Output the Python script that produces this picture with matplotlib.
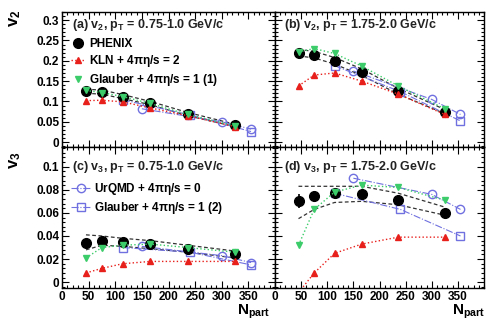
import matplotlib
matplotlib.use("Agg")
import matplotlib.pyplot as plt
from matplotlib.ticker import MultipleLocator, FixedLocator, FixedFormatter
from matplotlib.lines import Line2D
import numpy as np

plt.rcParams['font.family'] = ['Liberation Sans', 'DejaVu Sans']
plt.rcParams['mathtext.fontset'] = 'custom'
plt.rcParams['mathtext.rm'] = 'Liberation Sans:bold'
plt.rcParams['mathtext.it'] = 'Liberation Sans:bold'
plt.rcParams['mathtext.bf'] = 'Liberation Sans:bold'

# ---------------- data ----------------
npart = [45, 75, 114, 166, 236, 325]
npart_urqmd = [150, 300, 355]
npart_glauber2 = [114, 240, 355]
x_ticks = [0, 50, 100, 150, 200, 250, 300, 350]

# (a) v2, pT 0.75-1.0
a_phenix = [0.125, 0.123, 0.112, 0.096, 0.069, 0.041]
a_phenix_up = [0.130, 0.128, 0.117, 0.100, 0.073, 0.044]
a_phenix_lo = [0.120, 0.118, 0.107, 0.092, 0.065, 0.038]
a_kln = [0.102, 0.103, 0.099, 0.084, 0.065, 0.038]
a_glauber1 = [0.127, 0.122, 0.112, 0.095, 0.068, 0.040]
a_urqmd = [0.082, 0.050, 0.032]
a_glauber2 = [0.104, 0.067, 0.026]

# (b) v2, pT 1.75-2.0
b_phenix = [0.220, 0.215, 0.200, 0.172, 0.125, 0.075]
b_phenix_up = [0.228, 0.223, 0.208, 0.180, 0.132, 0.080]
b_phenix_lo = [0.212, 0.207, 0.192, 0.164, 0.118, 0.070]
b_kln = [0.138, 0.165, 0.170, 0.150, 0.118, 0.068]
b_glauber1 = [0.222, 0.230, 0.218, 0.187, 0.138, 0.082]
b_urqmd = [0.175, 0.105, 0.068]
b_glauber2 = [0.188, 0.124, 0.052]

# (c) v3, pT 0.75-1.0
c_phenix = [0.034, 0.036, 0.035, 0.033, 0.029, 0.024]
c_phenix_up = [0.041, 0.040, 0.038, 0.036, 0.032, 0.027]
c_phenix_lo = [0.028, 0.032, 0.031, 0.029, 0.026, 0.021]
c_kln = [0.008, 0.012, 0.016, 0.018, 0.018, 0.018]
c_glauber1 = [0.021, 0.030, 0.032, 0.033, 0.030, 0.026]
c_urqmd = [0.031, 0.023, 0.017]
c_glauber2 = [0.030, 0.026, 0.015]

# (d) v3, pT 1.75-2.0
d_phenix = [0.070, 0.075, 0.077, 0.076, 0.071, 0.060]
d_phenix_err = [0.006, 0.003, 0.002, 0.002, 0.002, 0.002]
d_phenix_up = [0.083, 0.083, 0.083, 0.083, 0.077, 0.065]
d_phenix_lo = [0.055, 0.063, 0.069, 0.070, 0.067, 0.058]
d_kln = [-0.009, 0.008, 0.025, 0.033, 0.039, 0.039]
d_glauber1 = [0.032, 0.063, 0.078, 0.084, 0.082, 0.071]
d_urqmd = [0.090, 0.076, 0.063]
d_glauber2 = [0.077, 0.063, 0.040]

panel_titles = [r"(a) v$_{2}$, p$_{T}$ = 0.75-1.0 GeV/c",
                r"(b) v$_{2}$, p$_{T}$ = 1.75-2.0 GeV/c",
                r"(c) v$_{3}$, p$_{T}$ = 0.75-1.0 GeV/c",
                r"(d) v$_{3}$, p$_{T}$ = 1.75-2.0 GeV/c"]

RED = '#e8201c'
GREEN = '#3ccc6a'
BLUE = '#7070e0'

# ---------------- layout ----------------
W, H = 487, 323
fig = plt.figure(figsize=(W / 100, H / 100), dpi=100)
L, M, R = 62 / W, 275 / W, 484 / W
T, Y, B = 1 - 12 / H, 1 - 147 / H, 1 - 288 / H

axa = fig.add_axes([L, Y, M - L, T - Y])
axb = fig.add_axes([M, Y, R - M, T - Y])
axc = fig.add_axes([L, B, M - L, Y - B])
axd = fig.add_axes([M, B, R - M, Y - B])

panels = [
    (axa, a_phenix, None, a_phenix_up, a_phenix_lo, a_kln, a_glauber1, a_urqmd, a_glauber2),
    (axb, b_phenix, None, b_phenix_up, b_phenix_lo, b_kln, b_glauber1, b_urqmd, b_glauber2),
    (axc, c_phenix, None, c_phenix_up, c_phenix_lo, c_kln, c_glauber1, c_urqmd, c_glauber2),
    (axd, d_phenix, d_phenix_err, d_phenix_up, d_phenix_lo, d_kln, d_glauber1, d_urqmd, d_glauber2),
]

fs = 8.5
fst = 9
for i, (ax, ph, pherr, up, lo, kln, gl1, urq, gl2) in enumerate(panels):
    ax.plot(npart, up, ls=(0, (3, 2)), color='#333333', lw=0.9, zorder=2)
    ax.plot(npart, lo, ls=(0, (3, 2)), color='#333333', lw=0.9, zorder=2)
    ax.plot(npart_urqmd, urq, ls='-.', color=BLUE, lw=0.8, marker='o', ms=6,
            mfc='none', mec=BLUE, mew=1.0, zorder=3)
    ax.plot(npart_glauber2, gl2, ls='-.', color=BLUE, lw=0.8, marker='s', ms=5.5,
            mfc='none', mec=BLUE, mew=1.0, zorder=3)
    if pherr is not None:
        ax.errorbar(npart, ph, yerr=pherr, fmt='o', color='black', ms=7, elinewidth=1.2,
                    capsize=0, zorder=4)
    else:
        ax.plot(npart, ph, 'o', color='black', ms=7, zorder=4)
    ax.plot(npart, kln, ls=':', color=RED, lw=1.0, marker='^', ms=5, mec=RED, mfc=RED, zorder=5)
    ax.plot(npart, gl1, ls=':', color=GREEN, lw=1.0, marker='v', ms=5, mec=GREEN, mfc=GREEN, zorder=6)

    ax.set_xlim(0, 400)
    ax.xaxis.set_major_locator(FixedLocator(x_ticks))
    ax.xaxis.set_major_formatter(FixedFormatter([str(v) for v in x_ticks]))
    ax.xaxis.set_minor_locator(MultipleLocator(10))
    if i < 2:
        ax.set_ylim(-0.012, 0.32)
        ax.yaxis.set_major_locator(FixedLocator([0, 0.05, 0.1, 0.15, 0.2, 0.25, 0.3]))
        ax.yaxis.set_major_formatter(FixedFormatter(['0', '0.05', '0.1', '0.15', '0.2', '0.25', '0.3']))
        ax.yaxis.set_minor_locator(MultipleLocator(0.01))
    else:
        ax.set_ylim(-0.005, 0.117)
        ax.yaxis.set_major_locator(FixedLocator([0, 0.02, 0.04, 0.06, 0.08, 0.1]))
        ax.yaxis.set_major_formatter(FixedFormatter(['0', '0.02', '0.04', '0.06', '0.08', '0.1']))
        ax.yaxis.set_minor_locator(MultipleLocator(0.004))
    ax.tick_params(which='both', direction='in', top=True, right=True, labelsize=fs,
                   width=0.8, pad=2)
    ax.tick_params(which='major', length=5)
    ax.tick_params(which='minor', length=2.5)
    for lab in ax.get_xticklabels() + ax.get_yticklabels():
        lab.set_fontweight('bold')
    if i < 2:
        ax.tick_params(labelbottom=False)
    if i % 2 == 1:
        ax.tick_params(labelleft=False)
    for sp in ax.spines.values():
        sp.set_linewidth(1.0)
    ty = 0.904 if i < 2 else 0.858
    ax.text(0.045, ty, panel_titles[i], transform=ax.transAxes, ha='left', va='center',
            fontsize=fst, fontweight='bold', color='#222222')

# legends
h1 = [Line2D([], [], ls='none', marker='o', color='black', ms=7),
      Line2D([], [], ls=':', marker='^', color=RED, ms=5, lw=1.0),
      Line2D([], [], ls='none', marker='v', color=GREEN, ms=5)]
l1 = ['PHENIX', r'KLN + 4$\pi\eta$/s = 2', r'Glauber + 4$\pi\eta$/s = 1 (1)']
axa.legend(h1, l1, loc='upper left', bbox_to_anchor=(0.01, 0.86), frameon=False,
           handlelength=1.2, handletextpad=0.3, labelspacing=0.25,
           borderaxespad=0.2, prop={'weight': 'bold', 'size': fs})

h2 = [Line2D([], [], ls='-.', marker='o', color=BLUE, mfc='none', ms=6, lw=0.8),
      Line2D([], [], ls='-.', marker='s', color=BLUE, mfc='none', ms=5.5, lw=0.8)]
l2 = [r'UrQMD + 4$\pi\eta$/s = 0', r'Glauber + 4$\pi\eta$/s = 1 (2)']
axc.legend(h2, l2, loc='upper left', bbox_to_anchor=(0.01, 0.81), frameon=False,
           handlelength=1.6, handletextpad=0.3, labelspacing=0.25, borderaxespad=0.2,
           prop={'weight': 'bold', 'size': fs})

# axis titles
fig.text(15 / W, 1 - 18 / H, r'v$_{2}$', rotation=90, ha='center', va='center',
         fontsize=12, fontweight='bold')
fig.text(15 / W, 1 - 160 / H, r'v$_{3}$', rotation=90, ha='center', va='center',
         fontsize=12, fontweight='bold')
fig.text(254 / W, 1 - 321 / H, r'N$_{part}$', ha='center', va='bottom',
         fontsize=11, fontweight='bold')
fig.text(469 / W, 1 - 321 / H, r'N$_{part}$', ha='center', va='bottom',
         fontsize=11, fontweight='bold')

fig.savefig('out.png', dpi=100)
